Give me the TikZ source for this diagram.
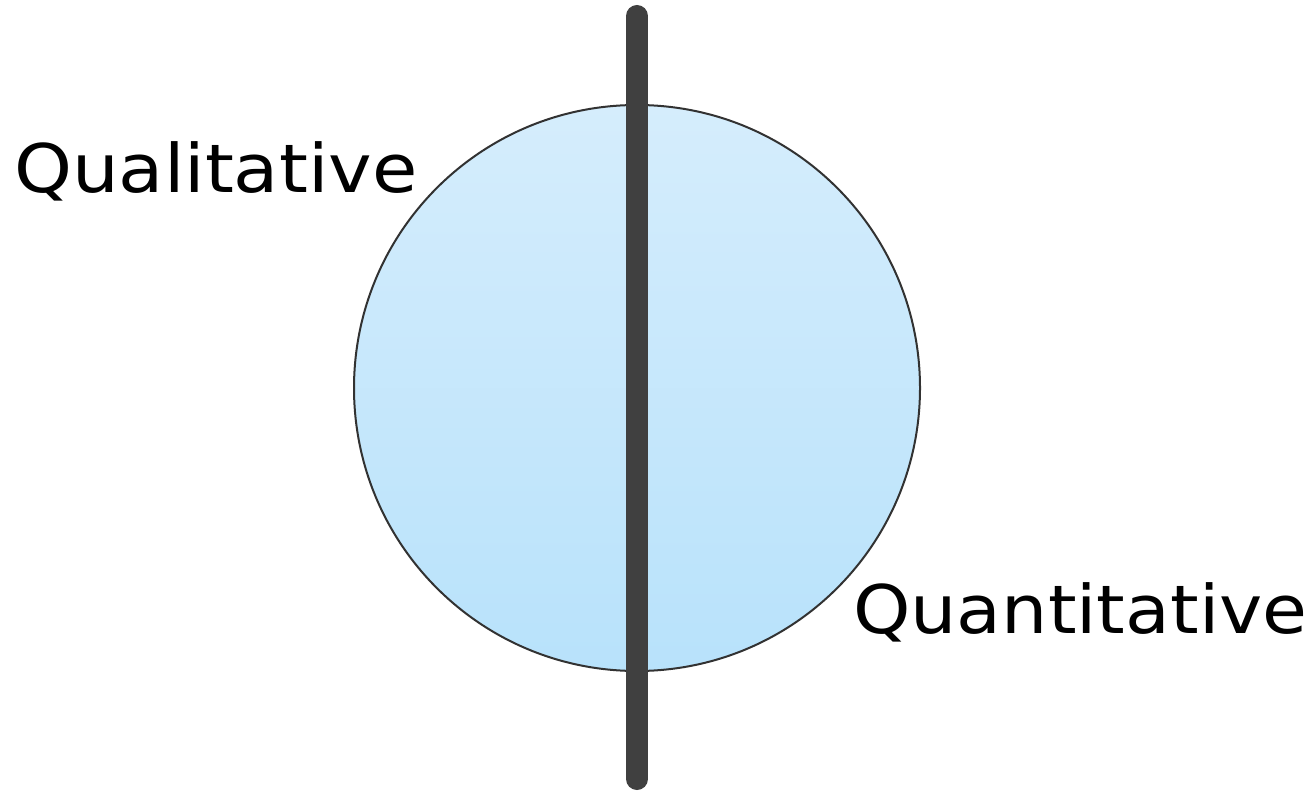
\documentclass[tikz,border=0pt]{standalone}
\usepackage{fontspec}
\setmainfont{DejaVu Sans}
\definecolor{ctop}{RGB}{213,237,252}
\definecolor{cbot}{RGB}{184,226,251}
\definecolor{edge}{RGB}{50,50,50}
\definecolor{bar}{RGB}{64,64,64}
\begin{document}
\begin{tikzpicture}[x=1pt,y=-1pt,
  lbl/.style={font=\fontsize{67}{70}\selectfont, inner sep=0pt, text=black}]
\useasboundingbox (0,0) rectangle (1316,791);
\node[circle, minimum size=566pt, inner sep=0pt, draw=edge, line width=2pt, top color=ctop, bottom color=cbot] (c) at (637,388) {};
\coordinate (t) at (637,16);
\coordinate (b) at (637,779);
\draw[bar, line width=22pt, line cap=round] (t) -- (b);
\node[lbl, anchor=base west] (ql) at (14,193) {\scalebox{1.1}[1]{Qualitative}};
\node[lbl, anchor=base west] (qn) at (853,633) {\scalebox{1.09}[1]{Quantitative}};
\end{tikzpicture}
\end{document}
